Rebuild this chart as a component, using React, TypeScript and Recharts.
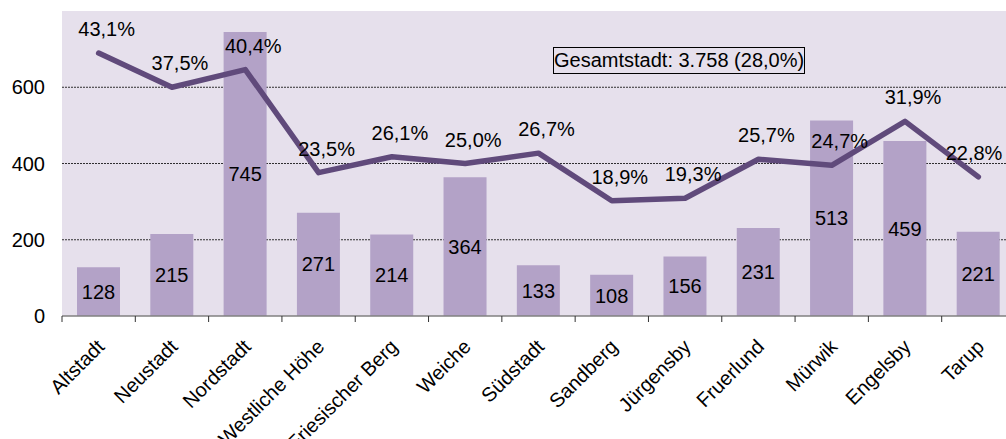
import React from 'react';
import { ComposedChart, Bar, Line, XAxis, YAxis, CartesianGrid, LabelList } from 'recharts';

const categories = ['Altstadt', 'Neustadt', 'Nordstadt', 'Westliche Höhe', 'Friesischer Berg', 'Weiche', 'Südstadt', 'Sandberg', 'Jürgensby', 'Fruerlund', 'Mürwik', 'Engelsby', 'Tarup'];
const counts = [128, 215, 745, 271, 214, 364, 133, 108, 156, 231, 513, 459, 221];
const shares = [43.1, 37.5, 40.4, 23.5, 26.1, 25.0, 26.7, 18.9, 19.3, 25.7, 24.7, 31.9, 22.8];
const yTicks = [0, 200, 400, 600];
const gridValues = [200, 400, 600];
const totalLabel = 'Gesamtstadt: 3.758 (28,0%)';

const data = categories.map((name, i) => ({ name, count: counts[i], share: shares[i] }));

const FONT = '"Liberation Sans", Arial, sans-serif';
const FS = 20;
const VIEW_W = 1006;

const fmtPct = (v: number) => v.toFixed(1).replace('.', ',') + '%';

const XTick = (props: any) => {
  const { x, y, payload } = props;
  const half = payload && typeof payload.offset === 'number' && payload.offset > 0 ? payload.offset : 36.65;
  const ax = x + 2;
  const ay = y + 27;
  return (
    <g>
      <line x1={x - half} y1={y} x2={x - half} y2={y + 6} stroke="#333" strokeWidth={1} />
      <text x={ax} y={ay} dy="0.35em" textAnchor="end" transform={`rotate(-45, ${ax}, ${ay})`} fontSize={FS} fontFamily={FONT} fill="#000">
        {payload.value}
      </text>
    </g>
  );
};

const PctLabel = (props: any) => {
  const { x, y, value } = props;
  const halfW = 29;
  const cx = Math.min(x + 8, VIEW_W - 3 - halfW);
  return (
    <text x={cx} y={y - 17} textAnchor="middle" fontSize={FS} fontFamily={FONT} fill="#000">
      {fmtPct(value)}
    </text>
  );
};

export default function App() {
  return (
    <div style={{ position: 'absolute', left: 0, top: 0, width: VIEW_W, height: 439, overflow: 'hidden', background: '#fff' }}>
      <ComposedChart width={1030} height={480} data={data} margin={{ top: 11, right: 15, left: 0, bottom: 0 }}>
        <CartesianGrid yAxisId="cnt" vertical={false} horizontalValues={gridValues} fill="#E6E0EC" stroke="#000" strokeDasharray="2 1" strokeWidth={0.8} />
        <XAxis dataKey="name" height={164} interval={0} tickLine={false} tickSize={0} tickMargin={0}
          axisLine={{ stroke: '#808080', strokeWidth: 1.5 }} tick={<XTick />} />
        <YAxis yAxisId="cnt" width={62} domain={[0, 800]} ticks={yTicks} axisLine={false} tickLine={false}
          tickSize={0} tickMargin={17} tick={{ fontSize: FS, fontFamily: FONT, fill: '#000' }} />
        <YAxis yAxisId="pct" orientation="right" hide domain={[0, 50]} />
        <Bar yAxisId="cnt" dataKey="count" fill="#B3A2C7" barSize={43} isAnimationActive={false}>
          <LabelList dataKey="count" position="center" fontSize={FS} fontFamily={FONT} fill="#000" />
        </Bar>
        <Line yAxisId="pct" dataKey="share" stroke="#604A7B" strokeWidth={5.5} dot={false} activeDot={false}
          strokeLinecap="round" strokeLinejoin="round" isAnimationActive={false}>
          <LabelList dataKey="share" content={<PctLabel />} />
        </Line>
      </ComposedChart>
      <div style={{ position: 'absolute', left: 553, top: 47, width: 250, height: 25, border: '1px solid #000', background: '#E6E0EC', fontFamily: FONT, fontSize: FS, lineHeight: '25px', textAlign: 'center', color: '#000', whiteSpace: 'nowrap' }}>
        {totalLabel}
      </div>
    </div>
  );
}
